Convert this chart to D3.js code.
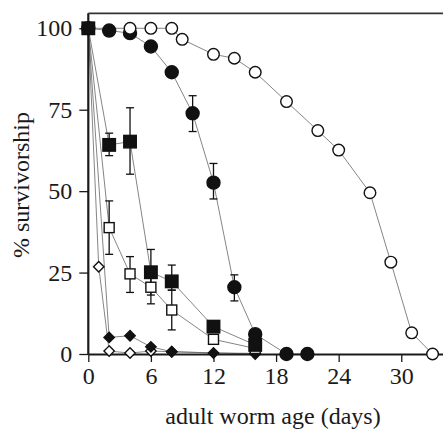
<!DOCTYPE html>
<html>
<head>
<meta charset="utf-8">
<script src="https://cdn.jsdelivr.net/npm/d3@7/dist/d3.min.js"></script>
<style>
  html, body { margin: 0; padding: 0; background: #fff; }
  svg { display: block; }
  text { font-family: "Liberation Serif", "DejaVu Serif", serif; fill: #1a1a1a; }
</style>
</head>
<body>
<svg id="chart" width="443" height="430"></svg>
<script>
// ---- data ----
const xTicks = [0, 6, 12, 18, 24, 30];
const yTicks = [0, 25, 50, 75, 100];

const openCircleDays  = [0, 4, 6, 8, 9, 12, 14, 16, 19, 22, 24, 27, 29, 31, 33];
const openCircleVals  = [100, 100, 100, 100, 96.6, 92.0, 90.8, 86.5, 77.5, 68.6, 62.6, 49.5, 28.2, 6.5, 0];

const filledCircleDays = [0, 2, 4, 6, 8, 10, 12, 14, 16, 19, 21];
const filledCircleVals = [100, 99.3, 98.5, 94.4, 86.5, 73.9, 52.6, 20.5, 6.1, 0, 0];
const filledCircleErrDays = [10, 12, 14];
const filledCircleErrLo   = [68.3, 47.6, 16.3];
const filledCircleErrHi   = [79.3, 58.5, 24.3];

const filledSquareDays = [0, 2, 4, 6, 8, 12, 16];
const filledSquareVals = [100, 64.2, 65.2, 25.1, 22.3, 8.4, 2.8];
const filledSquareErrDays = [2, 4, 6, 8];
const filledSquareErrLo   = [60.9, 55.2, 18.1, 19.6];
const filledSquareErrHi   = [67.8, 75.6, 32.1, 27.3];

const openSquareDays = [0, 2, 4, 6, 8, 12, 16];
const openSquareVals = [100, 38.8, 24.6, 20.5, 13.5, 4.5, 1.7];
const openSquareErrDays = [2, 4, 6, 8];
const openSquareErrLo   = [30.6, 18.9, 15.4, 7.4];
const openSquareErrHi   = [47.0, 29.9, 25.6, 19.6];

const filledDiamondDays = [0, 2, 4, 6, 8, 12, 16];
const filledDiamondVals = [100, 5.1, 5.6, 2.2, 0.7, 0.3, 0.2];

const openDiamondDays = [0, 1, 2, 4, 6, 8, 16];
const openDiamondVals = [100, 26.8, 0.9, 0.3, 0.9, 0.7, 0];

// ---- layout ----
const svg = d3.select("#chart");
const x = d3.scaleLinear().domain([0, 34]).range([88.3, 443]);
const y = d3.scaleLinear().domain([0, 104.6]).range([354, 13.3]);

const zip = (d, v) => d.map((di, i) => ({ x: di, y: v[i] }));
const zipErr = (d, lo, hi) => d.map((di, i) => ({ x: di, lo: lo[i], hi: hi[i] }));

const series = [
  { key: "od", pts: zip(openDiamondDays, openDiamondVals), shape: "diamond", fill: "#fff", size: 5.2 },
  { key: "fd", pts: zip(filledDiamondDays, filledDiamondVals), shape: "diamond", fill: "#111", size: 5.2 },
  { key: "os", pts: zip(openSquareDays, openSquareVals), shape: "square", fill: "#fff", size: 10 },
  { key: "fc", pts: zip(filledCircleDays, filledCircleVals), shape: "circle", fill: "#111", size: 6.5 },
  { key: "oc", pts: zip(openCircleDays, openCircleVals), shape: "circle", fill: "#fff", size: 5.8 },
  { key: "fs", pts: zip(filledSquareDays, filledSquareVals), shape: "square", fill: "#111", size: 12.5 }
];

const errs = [
  zipErr(filledCircleErrDays, filledCircleErrLo, filledCircleErrHi),
  zipErr(filledSquareErrDays, filledSquareErrLo, filledSquareErrHi),
  zipErr(openSquareErrDays, openSquareErrLo, openSquareErrHi)
];

// lines
const line = d3.line().x(d => x(d.x)).y(d => y(d.y));
series.forEach(s => {
  svg.append("path").attr("d", line(s.pts))
    .attr("fill", "none").attr("stroke", "#666").attr("stroke-width", 0.8);
});

// error bars
const capW = 4;
errs.forEach(arr => {
  const g = svg.append("g").attr("stroke", "#111").attr("stroke-width", 1.3).attr("fill", "none");
  arr.forEach(e => {
    g.append("line").attr("x1", x(e.x)).attr("x2", x(e.x)).attr("y1", y(e.lo)).attr("y2", y(e.hi));
    g.append("line").attr("x1", x(e.x) - capW).attr("x2", x(e.x) + capW).attr("y1", y(e.lo)).attr("y2", y(e.lo));
    g.append("line").attr("x1", x(e.x) - capW).attr("x2", x(e.x) + capW).attr("y1", y(e.hi)).attr("y2", y(e.hi));
  });
});

// axes frame
const xAxis = d3.axisBottom(x).tickValues(xTicks).tickSize(8).tickSizeOuter(0).tickPadding(5);
const yAxis = d3.axisLeft(y).tickValues(yTicks).tickSize(9).tickSizeOuter(0).tickPadding(7);

const gx = svg.append("g").attr("transform", `translate(0,${y(0)})`).call(xAxis);
const gy = svg.append("g").attr("transform", `translate(${x(0)},0)`).call(yAxis);
[gx, gy].forEach(g => {
  g.select(".domain").attr("stroke", "#1a1a1a").attr("stroke-width", 2.2);
  g.selectAll(".tick line").attr("stroke", "#1a1a1a").attr("stroke-width", 1.3);
  g.selectAll(".tick text").style("font-family", "'Liberation Serif', serif").style("font-size", "24px").attr("fill", "#1a1a1a");
});
gy.select(".domain").attr("d", `M0,${y(0)}V${y(104.6)}`);
svg.append("line").attr("x1", x(0)).attr("x2", x(34)).attr("y1", y(104.6)).attr("y2", y(104.6))
  .attr("stroke", "#333").attr("stroke-width", 1.8);

// markers
series.forEach(s => {
  const g = svg.append("g");
  s.pts.forEach(p => {
    const cx = x(p.x), cy = y(p.y);
    let el;
    if (s.shape === "circle") {
      el = g.append("circle").attr("cx", cx).attr("cy", cy).attr("r", s.size);
    } else if (s.shape === "square") {
      el = g.append("rect").attr("x", cx - s.size / 2).attr("y", cy - s.size / 2)
        .attr("width", s.size).attr("height", s.size);
    } else {
      const r = s.size;
      el = g.append("path").attr("d", `M${cx},${cy - r}L${cx + r},${cy}L${cx},${cy + r}L${cx - r},${cy}Z`);
    }
    el.attr("fill", s.fill).attr("stroke", "#111").attr("stroke-width", 1.4);
  });
});

// axis titles
svg.append("text").attr("x", 273).attr("y", 424).attr("text-anchor", "middle")
  .style("font-size", "24px").text("adult worm age (days)");
svg.append("text").attr("transform", `translate(29,185) rotate(-90)`).attr("text-anchor", "middle")
  .style("font-size", "24px").text("% survivorship");
</script>
</body>
</html>
